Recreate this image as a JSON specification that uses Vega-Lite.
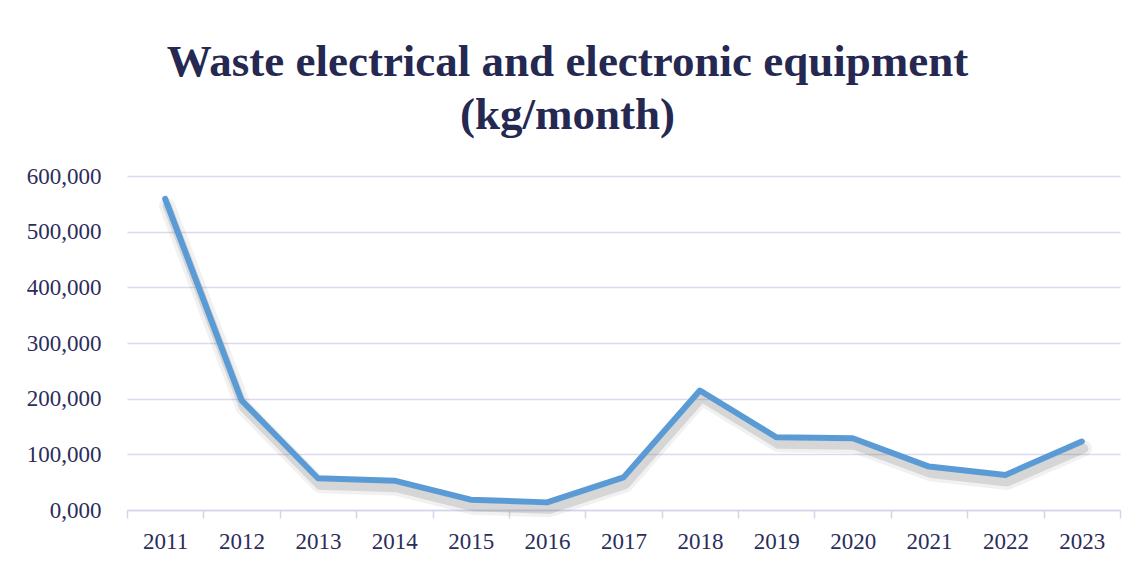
{
  "$schema": "https://vega.github.io/schema/vega-lite/v6.json",
  "autosize": "none",
  "width": 993,
  "height": 334,
  "padding": {"left": 127, "top": 176, "right": 21, "bottom": 59},
  "background": "white",
  "title": {
    "text": ["Waste electrical and electronic equipment", "(kg/month)"],
    "font": "Liberation Serif",
    "fontSize": 45,
    "fontWeight": "bold",
    "color": "#252850",
    "anchor": "middle",
    "frame": "group",
    "dx": -56,
    "offset": 27,
    "lineHeight": 53
  },
  "data": {
    "values": [
      {"year": "2011", "kg": 559000},
      {"year": "2012", "kg": 197000},
      {"year": "2013", "kg": 57000},
      {"year": "2014", "kg": 52700},
      {"year": "2015", "kg": 18500},
      {"year": "2016", "kg": 13700},
      {"year": "2017", "kg": 58600},
      {"year": "2018", "kg": 214600},
      {"year": "2019", "kg": 130600},
      {"year": "2020", "kg": 129000},
      {"year": "2021", "kg": 78000},
      {"year": "2022", "kg": 63000},
      {"year": "2023", "kg": 123000}
    ]
  },
  "encoding": {
    "x": {
      "field": "year",
      "type": "ordinal",
      "bandPosition": 0.5,
      "scale": {"type": "band", "paddingInner": 0, "paddingOuter": 0},
      "axis": {
        "title": null,
        "labelAngle": 0,
        "tickBand": "extent",
        "tickSize": 8,
        "tickColor": "#D3D5EE",
        "domainColor": "#D3D5EE",
        "domainWidth": 1.5,
        "tickWidth": 1.5,
        "grid": false,
        "labelFont": "Liberation Serif",
        "labelFontSize": 23,
        "labelColor": "#2B2D5A",
        "labelPadding": 12
      }
    },
    "y": {
      "field": "kg",
      "type": "quantitative",
      "scale": {"domain": [0, 600000], "nice": false},
      "axis": {
        "title": null,
        "values": [0, 100000, 200000, 300000, 400000, 500000, 600000],
        "labelExpr": "datum.value == 0 ? '0,000' : format(datum.value, ',')",
        "domain": false,
        "ticks": false,
        "gridColor": "#D9D9F0",
        "gridWidth": 1.5,
        "labelFont": "Liberation Serif",
        "labelFontSize": 23,
        "labelColor": "#2B2D5A",
        "labelPadding": 26
      }
    }
  },
  "layer": [
    {
      "mark": {"type": "line", "color": "#888888", "opacity": 0.12, "strokeWidth": 16, "yOffset": 7, "xOffset": 2, "strokeJoin": "round", "strokeCap": "round"}
    },
    {
      "mark": {"type": "line", "color": "#777777", "opacity": 0.22, "strokeWidth": 9, "yOffset": 7, "xOffset": 2, "strokeJoin": "round", "strokeCap": "round"}
    },
    {
      "mark": {"type": "line", "color": "#5B9BD5", "strokeWidth": 6, "strokeCap": "round", "strokeJoin": "round"}
    }
  ],
  "config": {"view": {"stroke": null}}
}
